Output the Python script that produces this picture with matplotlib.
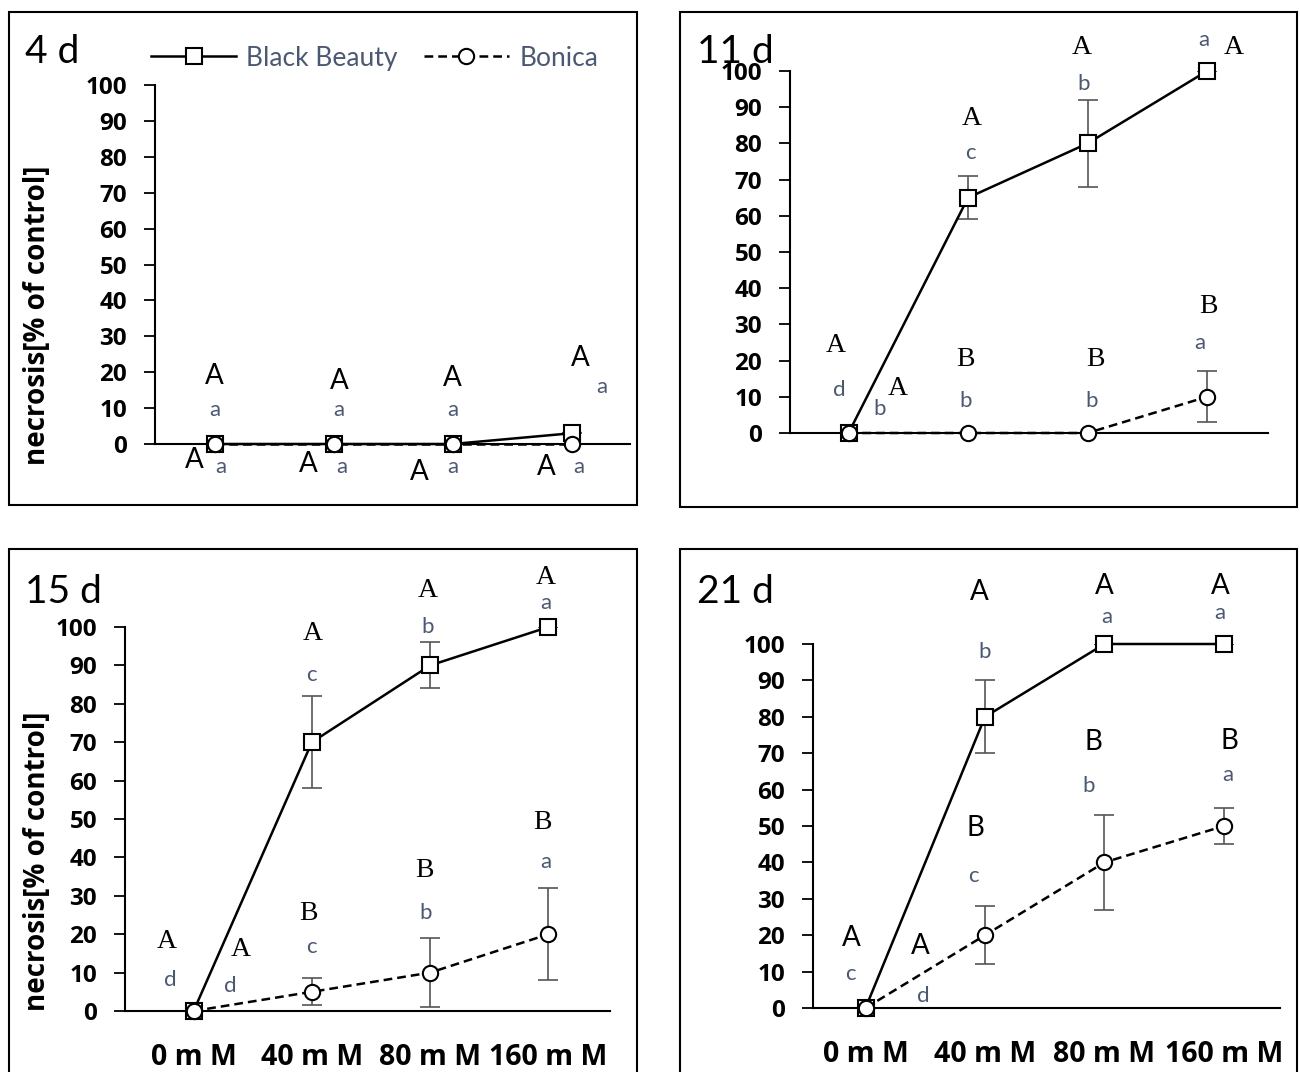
import matplotlib.pyplot as plt
from matplotlib.patches import Rectangle

plt.rcParams["font.family"] = ["Lato", "DejaVu Sans"]
GRASSETTO = ["Open Sans", "DejaVu Sans"]

concentrazioni = ["0 m M", "40 m M", "80 m M", "160 m M"]
giorni = ["4 d", "11 d", "15 d", "21 d"]

# necrosi [% del controllo] per giorno
bb_val = [[0, 0, 0, 3], [0, 65, 80, 100], [0, 70, 90, 100], [0, 80, 100, 100]]
bb_err = [[0, 0, 0, 0], [0, 6, 12, 0], [0, 12, 6, 0], [0, 10, 0, 0]]
bo_val = [[0, 0, 0, 0], [0, 0, 0, 10], [0, 5, 10, 20], [0, 20, 40, 50]]
bo_err = [[0, 0, 0, 0], [0, 0, 0, 7], [0, 3.5, 9, 12], [0, 8, 13, 5]]

# lettere di significativita' (testo, categoria)
lettere = [
    [("A", 0), ("a", 0), ("A", 0), ("a", 0), ("A", 1), ("a", 1), ("A", 1), ("a", 1),
     ("A", 2), ("a", 2), ("A", 2), ("a", 2), ("A", 3), ("a", 3), ("A", 3), ("a", 3)],
    [("A", 0), ("d", 0), ("b", 0), ("A", 0), ("A", 1), ("c", 1), ("B", 1), ("b", 1),
     ("A", 2), ("b", 2), ("B", 2), ("b", 2), ("a", 3), ("A", 3), ("B", 3), ("a", 3)],
    [("A", 0), ("d", 0), ("A", 0), ("d", 0), ("A", 1), ("c", 1), ("B", 1), ("c", 1),
     ("A", 2), ("b", 2), ("B", 2), ("b", 2), ("A", 3), ("a", 3), ("B", 3), ("a", 3)],
    [("A", 0), ("c", 0), ("A", 0), ("d", 0), ("A", 1), ("b", 1), ("B", 1), ("c", 1),
     ("A", 2), ("a", 2), ("B", 2), ("b", 2), ("A", 3), ("a", 3), ("B", 3), ("a", 3)],
]
# dove stanno le lettere: (spostamento x, y in unita' dati)
pos_lettere = [
    [(0, 19), (0, 9.5), (-0.17, -4.5), (0.05, -6.5), (0.05, 17.5), (0.04, 9.5), (-0.21, -5.5), (0.07, -6.5),
     (0, 18.5), (0, 9.5), (-0.28, -7.8), (0, -6.5), (0.07, 24), (0.25, 16), (-0.21, -6.5), (0.06, -6.5)],
    [(-0.11, 24.3), (-0.08, 11.9), (0.26, 6.6), (0.41, 12.4), (0.03, 87), (0.02, 77.3), (-0.02, 20.2), (-0.02, 8.8),
     (-0.05, 106.4), (-0.03, 96.4), (0.07, 20.4), (0.03, 8.8), (-0.03, 108.6), (0.22, 106.4), (0.01, 35), (-0.06, 25)],
    [(-0.23, 18), (-0.2, 8), (0.4, 15.9), (0.31, 6.5), (0.01, 98.2), (0, 87.5), (-0.03, 25.5), (0, 16.7),
     (-0.02, 109.6), (-0.02, 100), (-0.05, 36.7), (-0.04, 25.5), (-0.02, 113), (-0.02, 106.3), (-0.05, 49.2), (-0.02, 38.8)],
    [(-0.12, 19.2), (-0.13, 9.3), (0.46, 17), (0.48, 3.3), (-0.05, 114.3), (0, 97.8), (-0.08, 49.5), (-0.1, 36.3),
     (0, 116), (0.02, 107.4), (-0.09, 73), (-0.13, 61), (-0.03, 116), (-0.03, 108.5), (0.05, 73.4), (0.03, 64)],
]
serif_pannello = [False, True, True, False]

GRIGIO = "#4a5878"

fig = plt.figure(figsize=(13, 10.72), dpi=100)
W, H = 1300, 1072


def rect_px(x0, y0, x1, y1):
    return [x0 / W, 1 - y1 / H, (x1 - x0) / W, (y1 - y0) / H]


# cornici dei pannelli
for x0, y0, x1, y1 in [(9, 12, 637, 505), (680, 12, 1297, 507),
                       (9, 549, 637, 1080), (680, 549, 1297, 1080)]:
    fig.add_artist(Rectangle((x0 / W, 1 - y1 / H), (x1 - x0) / W, (y1 - y0) / H,
                             transform=fig.transFigure, fill=False, lw=1.5, ec="black"))

assi = [(155, 85, 630, 444, -0.5, 3.49), (790, 71, 1268, 433, -0.49, 3.51),
        (125, 627, 610, 1011, -0.58, 3.52), (813, 644, 1280, 1008, -0.44, 3.47)]

for k, (x0, y0, x1, y1, xa, xb) in enumerate(assi):
    ax = fig.add_axes(rect_px(x0, y0, x1, y1))
    xs = range(4)
    ax.errorbar(xs, bb_val[k], yerr=bb_err[k],
                fmt="none", ecolor="#555555", elinewidth=1.2, capsize=7, capthick=1.2, zorder=2)
    ax.errorbar(xs, bo_val[k], yerr=bo_err[k],
                fmt="none", ecolor="#555555", elinewidth=1.2, capsize=7, capthick=1.2, zorder=2)
    ax.plot(xs, bb_val[k], "-s", color="black", lw=1.8, ms=11, mfc="white", mec="black",
            mew=1.5, clip_on=False, zorder=3, label="Black Beauty")
    ax.plot(xs, bo_val[k], "--o", color="black", lw=1.8, ms=11, mfc="white", mec="black",
            mew=1.5, dashes=(3.5, 2), clip_on=False, zorder=4, label="Bonica")
    ax.set_xlim(xa, xb)
    ax.set_ylim(0, 100)
    ax.set_yticks(range(0, 101, 10))
    ax.tick_params(axis="y", direction="out", length=8, width=1.3, pad=12, labelsize=17.5)
    for t in ax.get_yticklabels():
        t.set_fontweight("bold")
        t.set_family(GRASSETTO)
    ax.set_xticks(range(4))
    ax.tick_params(axis="x", length=0, pad=23, labelsize=20.5)
    if k >= 2:
        ax.set_xticklabels(concentrazioni, fontweight="bold", family=GRASSETTO)
    else:
        ax.set_xticklabels([])
    for s in ["top", "right"]:
        ax.spines[s].set_visible(False)
    ax.spines["left"].set_linewidth(1.5)
    ax.spines["bottom"].set_linewidth(1.5)

    fam = ["Liberation Serif"] if serif_pannello[k] else ["Lato"]
    for (txt, cat), (dx, yy) in zip(lettere[k], pos_lettere[k]):
        if txt.isupper():
            ax.text(cat + dx, yy, txt, ha="center", va="center", fontsize=20,
                    color="black", family=fam)
        else:
            ax.text(cat + dx, yy, txt, ha="center", va="center", fontsize=16,
                    color=GRIGIO, family=["Lato"])

    # titolo del pannello (giorni)
    fig.text((25 if x0 < 600 else 697) / W, 1 - (52 if y0 < 500 else 592) / H, giorni[k],
             fontsize=28, ha="left", va="center")

    if k in (0, 2):
        ax.set_ylabel("necrosis[% of control]", fontsize=20, fontweight="bold", family=GRASSETTO)
        ax.yaxis.set_label_coords(-(x0 - 52) / (x1 - x0), 0.36 if k == 0 else 0.39)

    if k == 0:
        leg = ax.legend(loc="center left", bbox_to_anchor=(-0.03, 1.075), ncol=2,
                        frameon=False, fontsize=19, handlelength=3.2, columnspacing=1.0,
                        handletextpad=0.4, borderaxespad=0)
        for t in leg.get_texts():
            t.set_color(GRIGIO)

fig.savefig("out.png", dpi=100)
